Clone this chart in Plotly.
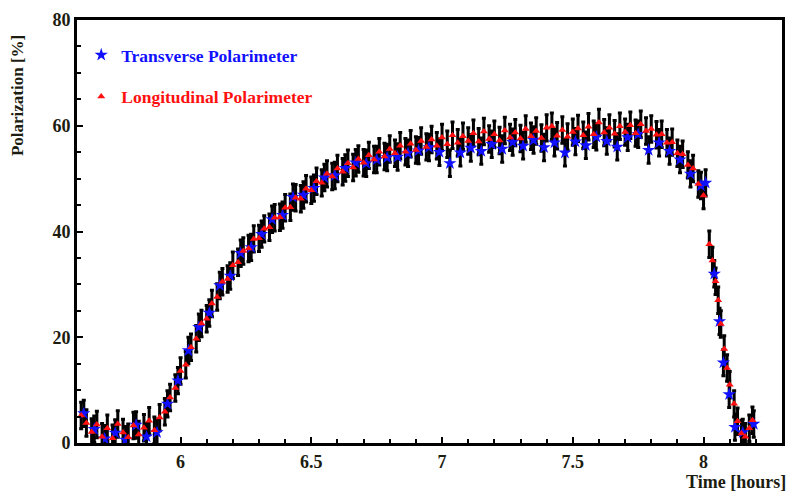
import plotly.graph_objects as go

# Longitudinal polarimeter (red triangles)
long_t = [5.62, 5.64, 5.66, 5.68, 5.70, 5.72, 5.74, 5.76, 5.78, 5.80,
          5.82, 5.84, 5.86, 5.88, 5.90, 5.92, 5.94, 5.96, 5.98, 6.00,
          6.02, 6.04, 6.06, 6.08, 6.10, 6.12, 6.14, 6.16, 6.18, 6.20,
          6.22, 6.24, 6.26, 6.28, 6.30, 6.32, 6.34, 6.36, 6.38, 6.40,
          6.42, 6.44, 6.46, 6.48, 6.50, 6.52, 6.54, 6.56, 6.58, 6.60,
          6.62, 6.64, 6.66, 6.68, 6.70, 6.72, 6.74, 6.76, 6.78, 6.80,
          6.82, 6.84, 6.86, 6.88, 6.90, 6.92, 6.94, 6.96, 6.98, 7.00,
          7.02, 7.04, 7.06, 7.08, 7.10, 7.12, 7.14, 7.16, 7.18, 7.20,
          7.22, 7.24, 7.26, 7.28, 7.30, 7.32, 7.34, 7.36, 7.38, 7.40,
          7.42, 7.44, 7.46, 7.48, 7.50, 7.52, 7.54, 7.56, 7.58, 7.60,
          7.62, 7.64, 7.66, 7.68, 7.70, 7.72, 7.74, 7.76, 7.78, 7.80,
          7.82, 7.84, 7.86, 7.88, 7.90, 7.92, 7.94, 7.96, 7.98, 8.00,
          8.022, 8.034, 8.046, 8.056, 8.066, 8.079, 8.090, 8.100, 8.117,
          8.130, 8.145, 8.160, 8.175, 8.187]
long_p = [5.2, 3.8, 2.1, 3.5, 1.2, 2.8, 0.9, 3.6, 2.0, 1.1,
          3.3, 1.6, 2.9, 4.2, 2.4, 4.8, 5.9, 8.6, 10.4, 13.6,
          14.8, 18.1, 19.7, 22.6, 23.5, 26.4, 27.6, 30.5, 31.0, 33.6,
          34.2, 36.3, 36.8, 38.6, 38.7, 40.5, 40.8, 42.6, 42.7, 44.5,
          44.6, 46.4, 46.2, 48.1, 47.8, 49.5, 49.2, 50.9, 50.4, 51.9,
          51.3, 52.9, 52.1, 53.7, 53.0, 54.4, 53.6, 55.1, 54.2, 55.6,
          54.8, 56.2, 55.1, 56.6, 55.4, 57.1, 56.0, 57.4, 56.2, 57.8,
          56.5, 58.2, 56.8, 58.0, 57.1, 58.6, 57.0, 58.9, 57.5, 58.4,
          57.2, 59.1, 57.8, 58.7, 57.6, 59.4, 58.0, 59.0, 57.7, 59.6,
          59.9, 58.1, 59.2, 57.9, 58.8, 59.5, 58.2, 59.8, 58.4, 60.6,
          58.7, 59.6, 58.5, 59.9, 58.8, 60.1, 58.6, 60.3, 59.0, 59.4,
          58.3, 58.4, 56.8, 56.9, 54.8, 54.6, 52.6, 51.9, 49.0, 46.8,
          37.6, 34.5, 30.6, 27.0, 22.5, 17.8, 14.2, 11.0, 7.4,
          4.1, 1.8, 1.2, 2.8, 4.3]

# Transverse polarimeter (blue stars)
trans_t = [5.63, 5.67, 5.71, 5.75, 5.79, 5.83, 5.87, 5.91, 5.95, 5.99,
           6.03, 6.07, 6.11, 6.15, 6.19, 6.23, 6.27, 6.31, 6.35, 6.39,
           6.43, 6.47, 6.51, 6.55, 6.59, 6.63, 6.67, 6.71, 6.75, 6.79,
           6.83, 6.87, 6.91, 6.95, 6.99, 7.03, 7.07, 7.11, 7.15, 7.19,
           7.23, 7.27, 7.31, 7.35, 7.39, 7.43, 7.47, 7.51, 7.55, 7.59,
           7.63, 7.67, 7.71, 7.75, 7.79, 7.83, 7.87, 7.91, 7.95, 7.99,
           8.008, 8.041, 8.061, 8.076, 8.098, 8.120, 8.150, 8.192]
trans_p = [5.6, 2.6, 0.8, 1.9, 0.6, 3.4, 1.2, 2.0, 7.4, 11.8,
           17.5, 21.9, 24.6, 29.8, 31.6, 35.9, 37.0, 39.5, 42.3, 43.1,
           46.5, 46.9, 48.2, 50.2, 50.6, 52.0, 53.0, 52.9, 53.6, 54.0,
           54.1, 54.8, 55.3, 55.9, 55.0, 52.9, 54.9, 55.8, 55.2, 56.5,
           55.6, 56.9, 56.2, 57.3, 55.9, 56.8, 54.9, 57.0, 56.3, 57.9,
           57.1, 56.0, 57.8, 58.4, 55.4, 56.8, 55.2, 53.6, 50.9, 48.7,
           49.2, 32.0, 23.0, 15.2, 9.2, 3.0, 2.0, 3.6]

err_long = 2.5
err_trans = 2.5

x_ticks = [6, 6.5, 7, 7.5, 8]
x_ticklabels = ["6", "6.5", "7", "7.5", "8"]
y_ticks = [0, 20, 40, 60, 80]

serif = "Liberation Serif, Times New Roman, serif"
lab_col = "#1c1c10"

fig = go.Figure()

# error bars first (black), markers on top
for t, p, e in [(long_t, long_p, err_long), (trans_t, trans_p, err_trans)]:
    fig.add_trace(go.Scatter(
        x=t, y=p, mode="markers", showlegend=False, hoverinfo="skip",
        marker=dict(size=1, color="rgba(0,0,0,0)"),
        error_y=dict(type="constant", value=e, color="black", thickness=3, width=2),
    ))

fig.add_trace(go.Scatter(
    x=trans_t, y=trans_p, mode="markers", legendgroup="t",
    name="<span style='color:#1010ff'><b>Transverse Polarimeter</b></span>",
    marker=dict(symbol="star", size=10, color="#1010ff", line=dict(width=0)),
))
fig.add_trace(go.Scatter(
    x=long_t, y=long_p, mode="markers", legendgroup="l",
    name="<span style='color:#ff1010'><b>Longitudinal Polarimeter</b></span>",
    marker=dict(symbol="triangle-up", size=7, color="#ff1010", line=dict(width=0)),
))

fig.update_layout(
    width=795, height=496,
    margin=dict(l=77, r=10, t=11, b=53),
    paper_bgcolor="white", plot_bgcolor="white",
    font=dict(family=serif, color=lab_col),
    legend=dict(
        x=0.006, y=0.96, xanchor="left", yanchor="top",
        bgcolor="rgba(0,0,0,0)", font=dict(family=serif, size=17.5),
        tracegroupgap=16, traceorder="grouped",
    ),
    xaxis=dict(
        range=[5.604, 8.30], tickvals=x_ticks, ticktext=x_ticklabels,
        ticks="inside", ticklen=6, tickwidth=2, tickcolor="black",
        minor=dict(dtick=0.1, tick0=6, ticks="inside", ticklen=4, tickwidth=2, tickcolor="black"),
        showline=True, linewidth=3, linecolor="black", mirror=True,
        showgrid=False, zeroline=False,
        tickfont=dict(family=serif, size=18, weight="bold", color=lab_col),
    ),
    yaxis=dict(
        range=[0, 80], tickvals=y_ticks,
        ticks="inside", ticklen=6, tickwidth=2, tickcolor="black",
        minor=dict(dtick=5, tick0=0, ticks="inside", ticklen=4, tickwidth=2, tickcolor="black"),
        showline=True, linewidth=3, linecolor="black", mirror=True,
        showgrid=False, zeroline=False,
        tickfont=dict(family=serif, size=18, weight="bold", color=lab_col),
    ),
    annotations=[
        dict(text="<b>Time [hours]</b>", xref="paper", yref="paper",
             x=1.008, y=-0.093, xanchor="right", yanchor="middle",
             showarrow=False, font=dict(family=serif, size=18, color=lab_col)),
        dict(text="<b>Polarization [%]</b>", xref="paper", yref="paper",
             x=-0.084, y=0.822, xanchor="center", yanchor="middle", textangle=-90,
             showarrow=False, font=dict(family=serif, size=17, color=lab_col)),
    ],
)

fig.write_html("out.html")
